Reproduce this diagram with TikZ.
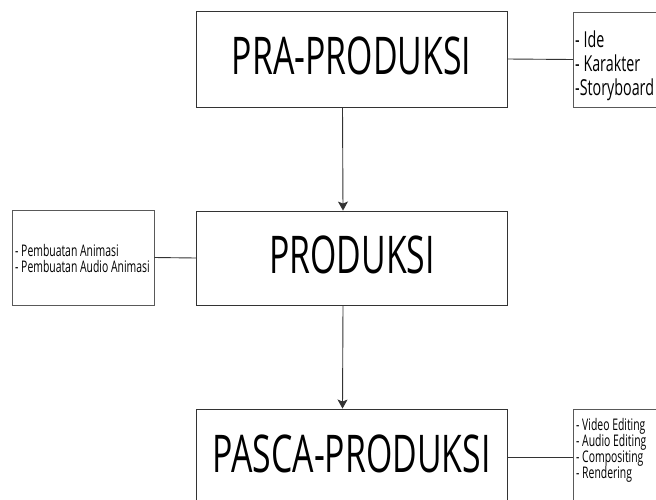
\documentclass[tikz,border=0pt]{standalone}
\usepackage{fontspec}
\setmainfont{Open Sans}[FakeStretch=0.65]
\usetikzlibrary{arrows.meta}

\begin{document}
\begin{tikzpicture}[x=1pt,y=-1pt,>/.tip={Stealth[length=9pt,width=10pt,inset=2pt]},
	stage/.style={draw=black!80,line width=0.9pt,minimum width=311pt,minimum height=96pt,inner sep=0pt,text depth=6pt,font=\fontsize{52}{52}\selectfont},
	side/.style={draw=black!65,line width=0.9pt,minimum width=120pt,minimum height=95pt,anchor=west},
	item/.style={anchor=north west,align=left,inner sep=0pt}]
	\useasboundingbox (0,0) rectangle (656,499);
	\clip (0,0) rectangle (656,499);
	\draw (351.5,59) node (pra) [stage] {PRA-PRODUKSI};
	\draw (352,258) node (prod) [stage,minimum height=94pt] {PRODUKSI};
	\draw (351.5,457) node (pasca) [stage] {PASCA-PRODUKSI};
	
	\draw (573,59.5) node (ideas) [side] {};
	\node (ideasText) [item,font=\fontsize{22}{24}\selectfont] at (575,31) {- Ide\\- Karakter\\-Storyboard};
	\draw (83,257.5) node (tasks) [side,anchor=center,minimum width=142pt] {};
	\node (tasksText) [item,font=\fontsize{16}{16}\selectfont] at (15,244) {- Pembuatan Animasi\\- Pembuatan Audio Animasi};
	\draw (573,457) node (edits) [side,minimum height=96pt] {};
	\node (editsText) [item,font=\fontsize{16}{16}\selectfont] at (576,418) {- Video Editing\\- Audio Editing\\- Compositing\\- Rendering};
	
	\draw[->,black!80,line width=0.9pt] ([xshift=-9pt]pra.south) -- ([xshift=-9pt]prod.north);
	\draw[->,black!80,line width=0.9pt] ([xshift=-9pt]prod.south) -- ([xshift=-9pt]pasca.north);
	\draw[black!80,line width=0.9pt] (pra.east) -- (ideas.west);
	\draw[black!80,line width=0.9pt] (tasks.east) -- (prod.west);
	\draw[black!80,line width=0.9pt] (pasca.east) -- (edits.west);
\end{tikzpicture}
\end{document}
